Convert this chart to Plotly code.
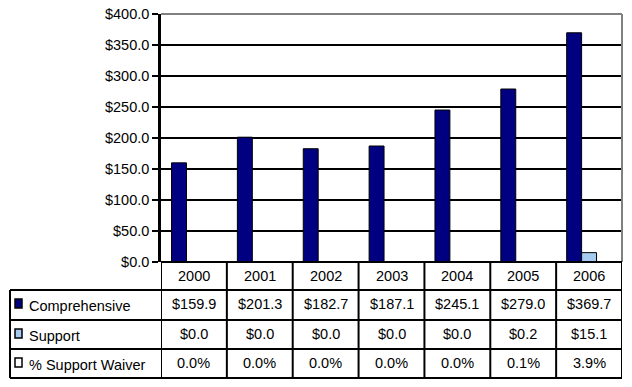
import plotly.graph_objects as go

years = ["2000", "2001", "2002", "2003", "2004", "2005", "2006"]
comprehensive = [159.9, 201.3, 182.7, 187.1, 245.1, 279.0, 369.7]
support = [0.0, 0.0, 0.0, 0.0, 0.0, 0.2, 15.1]
waiver_pct = [0.0, 0.0, 0.0, 0.0, 0.0, 0.1, 3.9]
series_names = ["Comprehensive", "Support", "% Support Waiver"]

W, H = 632, 387
L, R, T, B = 161, 10, 14, 125  # plot area px margins
PW, PH = W - L - R, H - T - B

def px(x):
    return (x - L) / PW

def py(y):
    return (H - B - y) / PH

FONT = "Arial, Liberation Sans, sans-serif"
FS = 14.5
navy = "#000080"
light = "#A6CAF0"

fig = go.Figure()
fig.add_bar(x=list(range(len(years))), y=comprehensive, name=series_names[0],
            marker=dict(color=navy, line=dict(color="black", width=1)))
fig.add_bar(x=list(range(len(years))), y=support, name=series_names[1],
            marker=dict(color=light, line=dict(color="black", width=1)))
fig.add_bar(x=list(range(len(years))), y=[v / 100 for v in waiver_pct], name=series_names[2],
            marker=dict(color="white", line=dict(color="black", width=0.5)))

shapes = []
annotations = []
# plot border (gray top/right)
shapes.append(dict(type="line", xref="paper", yref="paper", x0=0, x1=1, y0=1, y1=1,
                   line=dict(color="#808080", width=2)))
shapes.append(dict(type="line", xref="paper", yref="paper", x0=1, x1=1, y0=0, y1=1,
                   line=dict(color="#808080", width=2)))

# table geometry (pixel rows)
row_y = [262, 290, 320, 349, 378]
lw = 2
n = len(years)
for y in row_y:
    x0 = px(161) if y == 262 else px(10)
    shapes.append(dict(type="line", xref="paper", yref="paper", x0=x0, x1=1,
                       y0=py(y), y1=py(y), line=dict(color="black", width=lw)))
for i in range(n + 1):
    shapes.append(dict(type="line", xref="x", yref="paper", x0=i - 0.5, x1=i - 0.5,
                       y0=py(262), y1=py(378), line=dict(color="black", width=lw)))
shapes.append(dict(type="line", xref="paper", yref="paper", x0=px(10), x1=px(10),
                   y0=py(290), y1=py(378), line=dict(color="black", width=lw)))

for i, yr in enumerate(years):
    annotations.append(dict(x=i, y=py(276), xref="x", yref="paper", text=yr,
                            yanchor="middle", xanchor="center",
                            showarrow=False, font=dict(family=FONT, size=FS, color="black")))

rows = [
    [f"${v:.1f}" for v in comprehensive],
    [f"${v:.1f}" for v in support],
    [f"{v:.1f}%" for v in waiver_pct],
]
row_centers = [304, 334, 363]
key_fill = [navy, light, "white"]
for r, (vals, yc) in enumerate(zip(rows, row_centers)):
    for i, t in enumerate(vals):
        annotations.append(dict(x=i, y=py(yc), xref="x", yref="paper", text=t,
                                yanchor="middle", xanchor="center",
                                showarrow=False, font=dict(family=FONT, size=FS, color="black")))
    annotations.append(dict(x=px(27), y=py(yc + 2), xref="paper", yref="paper",
                            text=series_names[r], xanchor="left", yanchor="middle",
                            showarrow=False,
                            font=dict(family=FONT, size=FS, color="black")))
    shapes.append(dict(type="rect", xref="paper", yref="paper", x0=px(15), x1=px(22),
                       y0=py(yc + 4), y1=py(yc - 5), fillcolor=key_fill[r],
                       line=dict(color="black", width=1.5)))

fig.update_layout(
    width=W, height=H,
    margin=dict(l=L, r=R, t=T, b=B, autoexpand=False),
    paper_bgcolor="white", plot_bgcolor="white",
    barmode="group", bargap=0.32, bargroupgap=0,
    showlegend=False,
    font=dict(family=FONT, size=FS, color="black"),
    xaxis=dict(range=[-0.5, n - 0.5], showticklabels=False, showgrid=False,
               zeroline=False, showline=False, ticks=""),
    yaxis=dict(range=[0, 400], dtick=50, tickprefix="$", tickformat=".1f",
               showgrid=True, gridcolor="black", gridwidth=1.5,
               showline=True, linecolor="black", linewidth=2.5,
               ticks="outside", ticklen=6, tickwidth=2, tickcolor="black",
               zeroline=False, tickfont=dict(family=FONT, size=FS, color="black")),
    shapes=shapes, annotations=annotations,
)

fig.write_html("out.html", config={"displayModeBar": False},
               post_script="document.body.style.margin='0px';")
